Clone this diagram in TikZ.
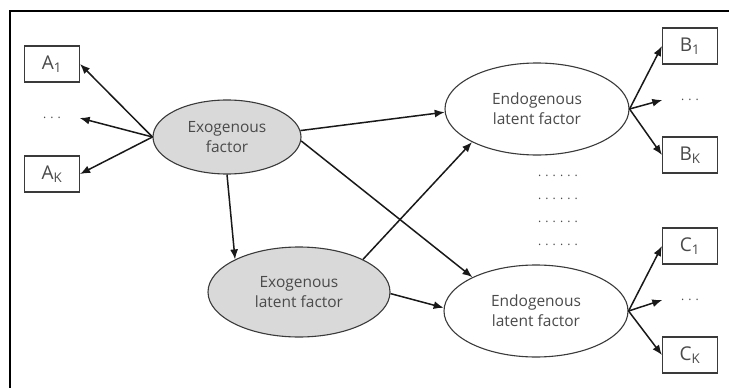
\documentclass[tikz,border=0pt]{standalone}
\usepackage{fontspec}
\setmainfont{Open Sans}
\usetikzlibrary{shapes.geometric,arrows.meta}

\definecolor{txtgray}{HTML}{4A4A4A}
\definecolor{exofill}{HTML}{D9D9D9}
\definecolor{edgegray}{HTML}{3A3A3A}

% a row of evenly spaced dots
\newcommand\dotseq[1]{\foreach \i in {1,...,#1}{\makebox[7.3pt]{.}}}

\tikzset{
  indicator/.style={draw=edgegray, line width=1.1pt, fill=white,
    minimum width=55pt, minimum height=36pt, inner sep=0pt,
    text=txtgray, font=\fontsize{19}{22}\selectfont},
  gap/.style={minimum width=55pt, inner sep=0pt, text=txtgray,
    font=\fontsize{12}{14}\selectfont},
  exo/.style={ellipse, draw=edgegray, line width=1.1pt, fill=exofill,
    inner sep=0pt, align=center, text=txtgray,
    font=\fontsize{15.5}{20}\selectfont},
  endo/.style={exo, fill=white},
  link/.style={line width=1.5pt, draw=black!90,
    -{Latex[length=10pt,width=8pt]}},
  rowdots/.style={inner sep=0pt, text=txtgray, font=\fontsize{12}{14}\selectfont}
}

\begin{document}
\begin{tikzpicture}[x=1pt,y=-1pt]
  \useasboundingbox (0,0) rectangle (729,388);
  \fill[white] (0,0) rectangle (729,388);

  % outer frame
  \draw[line width=2pt, black] (10,400) -- (10,11) -- (740,11);

  % indicators of the exogenous factor
  \node[indicator] (a1) at (52,64)  {A\textsubscript{1}};
  \node[gap]       (ad) at (52,118) {\dotseq{3}};
  \node[indicator] (ak) at (52,174) {A\textsubscript{K}};

  % latent factors
  \node[exo, minimum width=148pt, minimum height=74pt]  (ef) at (227,137) {Exogenous\\factor};
  \node[exo, minimum width=182pt, minimum height=90pt]  (el) at (299,292) {Exogenous\\latent factor};
  \node[endo, minimum width=184pt, minimum height=92pt] (et) at (537,109) {Endogenous\\latent factor};
  \node[endo, minimum width=184pt, minimum height=92pt] (eb) at (536,311) {Endogenous\\latent factor};

  % indicators of the endogenous factors
  \node[indicator] (b1) at (690,46)  {B\textsubscript{1}};
  \node[gap]       (bd) at (690,100) {\dotseq{3}};
  \node[indicator] (bk) at (690,155) {B\textsubscript{K}};
  \node[indicator] (c1) at (690,246) {C\textsubscript{1}};
  \node[gap]       (cd) at (690,300) {\dotseq{3}};
  \node[indicator] (ck) at (690,355) {C\textsubscript{K}};

  % further endogenous factors omitted
  \node[rowdots] (r1) at (558,176) {\dotseq{6}};
  \node[rowdots] (r2) at (558,199) {\dotseq{6}};
  \node[rowdots] (r3) at (558,222) {\dotseq{6}};
  \node[rowdots] (r4) at (558,245) {\dotseq{6}};

  % measurement arrows
  \draw[link] (ef.west) -- (a1.east);
  \draw[link] (ef.west) -- (ad.east);
  \draw[link] (ef.west) -- (ak.east);
  \draw[link] (et.east) -- (b1.west);
  \draw[link] (et.east) -- (bd.west);
  \draw[link] (et.east) -- (bk.west);
  \draw[link] (eb.east) -- (c1.west);
  \draw[link] (eb.east) -- (cd.west);
  \draw[link] (eb.east) -- (ck.west);

  % structural arrows
  \draw[link] (ef.south) -- (el.153);
  \draw[link] (ef.5) -- (et.182);
  \draw[link] (ef.-3) -- (eb.152);
  \draw[link] (el.27) -- (et.207);
  \draw[link] (el.-1) -- (eb.178);
\end{tikzpicture}
\end{document}
